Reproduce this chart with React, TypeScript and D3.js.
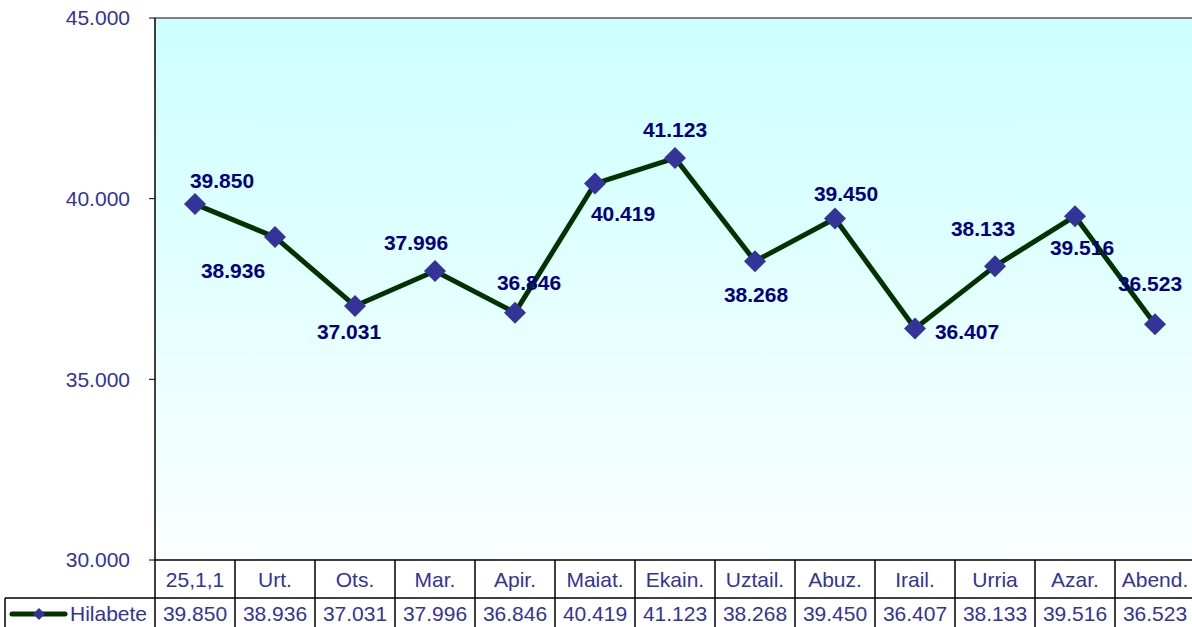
import React from "react";
import * as d3 from "d3";

const categories = ["25,1,1", "Urt.", "Ots.", "Mar.", "Apir.", "Maiat.", "Ekain.", "Uztail.", "Abuz.", "Irail.", "Urria", "Azar.", "Abend."];
const values = [39850, 38936, 37031, 37996, 36846, 40419, 41123, 38268, 39450, 36407, 38133, 39516, 36523];
const yTicks = [30000, 35000, 40000, 45000];
const seriesName = "Hilabete";
// label placement relative to each point (dx, dy) in px
const labelOffsets: [number, number][] = [
  [27, -23], [-42, 34], [-6, 26], [-19, -28], [14, -30], [28, 30], [0, -28], [1, 33], [11, -25], [52, 3], [-12, -37], [7, 31], [-5, -41],
];

const fmt = (v: number) => d3.format(",.0f")(v).replace(/,/g, ".");

export default function App() {
  const W = 1192, H = 627;
  const left = 155, right = 1195, top = 18, bottom = 560;
  const x = d3.scaleBand<string>().domain(categories).range([left, right]);
  const y = d3.scaleLinear().domain([30000, 45000]).range([bottom, top]);
  const cx = (i: number) => (x(categories[i]) as number) + x.bandwidth() / 2;
  const line = d3.line<number>().x((_, i) => cx(i)).y((d) => y(d));
  const row1 = 598, row2 = 635;
  const font = "'Liberation Sans', Arial, sans-serif";
  const axisColor = "#333399";
  const diamond = (px: number, py: number, r: number) => `M${px},${py - r}L${px + r},${py}L${px},${py + r}L${px - r},${py}Z`;
  return (
    <svg width={W} height={H} style={{ position: "absolute", left: 0, top: 0 }} fontFamily={font}>
      <defs>
        <linearGradient id="bg" x1="0" y1="0" x2="0" y2="1">
          <stop offset="0" stopColor="#ccffff" />
          <stop offset="1" stopColor="#fbffff" />
        </linearGradient>
      </defs>
      <rect x={0} y={0} width={W} height={H} fill="#fff" />
      <rect x={left} y={top} width={right - left} height={bottom - top} fill="url(#bg)" />
      <line x1={left} x2={right} y1={top} y2={top} stroke="#808080" strokeWidth={2} />
      <line x1={left} x2={left} y1={top} y2={row2} stroke="#000" strokeWidth={1.5} />
      {yTicks.map((t) => (
        <g key={t}>
          <line x1={left - 6} x2={left} y1={y(t)} y2={y(t)} stroke="#000" strokeWidth={1} />
          <text x={130} y={y(t)} dy="0.35em" textAnchor="end" fontSize={21} fill={axisColor}>{fmt(t)}</text>
        </g>
      ))}
      {/* table */}
      <line x1={left} x2={W} y1={bottom} y2={bottom} stroke="#000" strokeWidth={1.5} />
      <line x1={5} x2={W} y1={row1} y2={row1} stroke="#000" strokeWidth={1.5} />
      <line x1={5} x2={5} y1={row1} y2={row2} stroke="#000" strokeWidth={1.5} />
      {categories.map((c, i) => (
        <g key={c}>
          <line x1={(x(c) as number) + x.bandwidth()} x2={(x(c) as number) + x.bandwidth()} y1={bottom} y2={row2} stroke="#000" strokeWidth={1.5} />
          <text x={cx(i)} y={(bottom + row1) / 2 + 1} dy="0.35em" textAnchor="middle" fontSize={21} fill={axisColor}>{c}</text>
          <text x={cx(i)} y={614} dy="0.35em" textAnchor="middle" fontSize={21} fill={axisColor}>{fmt(values[i])}</text>
        </g>
      ))}
      <line x1={12} x2={65} y1={614} y2={614} stroke="#003300" strokeWidth={5} strokeLinecap="round" />
      <path d={diamond(39, 614, 6)} fill={axisColor} />
      <text x={70} y={614} dy="0.35em" fontSize={21} fill={axisColor}>{seriesName}</text>
      {/* series */}
      <path d={line(values) || ""} fill="none" stroke="#003300" strokeWidth={5} strokeLinejoin="round" />
      {values.map((v, i) => (
        <path key={i} d={diamond(cx(i), y(v), 11)} fill={axisColor} />
      ))}
      {values.map((v, i) => (
        <text key={"l" + i} x={cx(i) + labelOffsets[i][0]} y={y(v) + labelOffsets[i][1]} dy="0.35em" textAnchor="middle" fontSize={21} fontWeight="bold" fill="#000080">{fmt(v)}</text>
      ))}
    </svg>
  );
}
